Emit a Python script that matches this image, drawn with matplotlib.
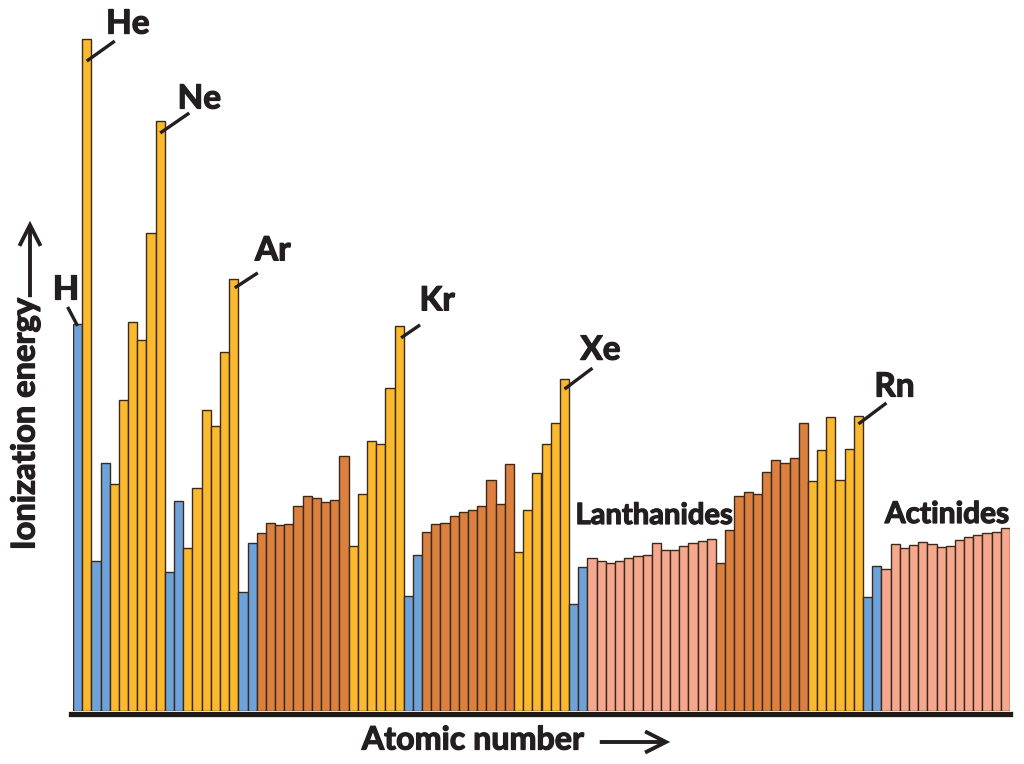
import matplotlib
matplotlib.use("Agg")
import matplotlib.pyplot as plt
import matplotlib.patheffects as pe
from matplotlib.patches import FancyArrowPatch

# ---------------- data ----------------
symbols = ["H", "He",
           "Li", "Be", "B", "C", "N", "O", "F", "Ne",
           "Na", "Mg", "Al", "Si", "P", "S", "Cl", "Ar",
           "K", "Ca", "Sc", "Ti", "V", "Cr", "Mn", "Fe", "Co", "Ni", "Cu", "Zn",
           "Ga", "Ge", "As", "Se", "Br", "Kr",
           "Rb", "Sr", "Y", "Zr", "Nb", "Mo", "Tc", "Ru", "Rh", "Pd", "Ag", "Cd",
           "In", "Sn", "Sb", "Te", "I", "Xe",
           "Cs", "Ba", "La", "Ce", "Pr", "Nd", "Pm", "Sm", "Eu", "Gd", "Tb", "Dy",
           "Ho", "Er", "Tm", "Yb", "Lu", "Hf", "Ta", "W", "Re", "Os", "Ir", "Pt",
           "Au", "Hg", "Tl", "Pb", "Bi", "Po", "At", "Rn",
           "Fr", "Ra", "Ac", "Th", "Pa", "U", "Np", "Pu", "Am", "Cm", "Bk", "Cf",
           "Es", "Fm", "Md", "No"]

# approximate ionization energy (eV)
energy = [14.17, 24.60,
          5.49, 9.08, 8.31, 11.39, 14.24, 13.58, 17.50, 21.60,
          5.09, 7.69, 5.97, 8.16, 11.02, 10.43, 13.14, 15.82,
          4.36, 6.15, 6.52, 6.88, 6.81, 6.85, 7.50, 7.87, 7.80, 7.65, 7.72, 9.34,
          6.04, 7.94, 9.88, 9.77, 11.83, 14.10,
          4.21, 5.71, 6.55, 6.85, 6.88, 7.14, 7.29, 7.36, 7.50, 8.46, 7.58, 9.04,
          5.82, 7.36, 8.71, 9.77, 10.54, 12.15,
          3.92, 5.27, 5.60, 5.49, 5.42, 5.49, 5.60, 5.67, 5.71, 6.15, 5.89, 5.89,
          6.04, 6.15, 6.22, 6.30, 5.42, 6.63, 7.87, 8.02, 7.94, 8.75, 9.19, 9.08,
          9.26, 10.54, 8.42, 9.56, 10.76, 8.46, 9.59, 10.80,
          4.17, 5.31, 5.20, 6.11, 5.97, 6.08, 6.19, 6.11, 6.00, 6.04, 6.26, 6.37,
          6.44, 6.52, 6.55, 6.70]

# colour group of every bar: s = alkali/alkaline earth, p = p-block (+He),
# d = transition metals, f = lanthanides/actinides
blocks = (["s", "p"]
          + ["s"] * 2 + ["p"] * 6
          + ["s"] * 2 + ["p"] * 6
          + ["s"] * 2 + ["d"] * 10 + ["p"] * 6
          + ["s"] * 2 + ["d"] * 10 + ["p"] * 6
          + ["s"] * 2 + ["f"] * 14 + ["d"] * 10 + ["p"] * 6
          + ["s"] * 2 + ["f"] * 14)

labelled = ["H", "He", "Ne", "Ar", "Kr", "Xe", "Rn"]
group_labels = ["Lanthanides", "Actinides"]

# ---------------- style ----------------
block_colors = {"s": "#6DA2DA", "p": "#FBB92E", "d": "#DB803E", "f": "#F6A88E"}
edge = "#3A2A1C"
ink = "#231F20"
FONT = "Lato"
WEIGHT = "bold"
heavy = [pe.withStroke(linewidth=0.9, foreground=ink)]

W, H = 1024, 764
fig = plt.figure(figsize=(W / 100, H / 100), dpi=100)
fig.patch.set_facecolor("white")

# axes geometry in pixels
x0_px, x1_px = 73, 1010
base_px = 711          # baseline (from top)
ev_per_px = 0.03661
ax = fig.add_axes([x0_px / W, (H - base_px) / H, (x1_px - x0_px) / W, base_px / H])
n = len(energy)
ax.set_xlim(-0.5, n - 0.5)
ax.set_ylim(0, base_px * ev_per_px)
ax.axis("off")

xs = list(range(n))
ax.bar(xs, energy, width=1.0, color=[block_colors[b] for b in blocks],
       edgecolor=edge, linewidth=1.0, zorder=2)

# thick baseline
ax.axhline(-2.6 * ev_per_px, xmin=-0.002, xmax=1.0, color="#1E1A18",
           linewidth=3.8, clip_on=False, zorder=3)

px_per_x = (x1_px - x0_px) / n


def dx(p):
    return p / px_per_x


def dy(p):
    return p * ev_per_px


# element labels: (line start offset, line end offset, text offset) in px, y up
label_offsets = {
    "H":  ((0, -2), (-10, 17), (-12, 34)),
    "He": ((0, -22), (28, -2), (41, 15)),
    "Ne": ((0, -12), (29, 8), (39, 22)),
    "Ar": ((1, -9), (24, 6), (39, 28)),
    "Kr": ((2, -12), (21, 1), (38, 25)),
    "Xe": ((0, -10), (28, 11), (36, 29)),
    "Rn": ((0, -8), (28, 13), (36, 29)),
}
for sym in labelled:
    i = symbols.index(sym)
    e = energy[i]
    (a1, b1), (a2, b2), (tx, ty) = label_offsets[sym]
    ax.plot([i + dx(a1), i + dx(a2)], [e + dy(b1), e + dy(b2)], color=ink,
            linewidth=2.4, solid_capstyle="butt", zorder=5, clip_on=False)
    ax.text(i + dx(tx), e + dy(ty), sym, fontsize=24, fontweight=WEIGHT,
            family=FONT, color=ink, ha="center", va="center", zorder=6,
            path_effects=heavy)

# series group labels
fig.text(654 / W, 1 - 516 / H, group_labels[0], fontsize=21, fontweight=WEIGHT,
         family=FONT, color=ink, ha="center", va="center", path_effects=heavy)
fig.text(947 / W, 1 - 514 / H, group_labels[1], fontsize=21.5, fontweight=WEIGHT,
         family=FONT, color=ink, ha="center", va="center", path_effects=heavy)

# axis titles with arrows
fig.text(473 / W, 1 - 740 / H, "Atomic number", fontsize=23.2, fontweight=WEIGHT,
         family=FONT, color=ink, ha="center", va="center", path_effects=heavy)
fig.text(25 / W, 1 - 424 / H, "Ionization energy", fontsize=23.5, fontweight=WEIGHT,
         family=FONT, color=ink, ha="center", va="center", rotation=90,
         path_effects=heavy)

arrow_style = "->,head_length=0.75,head_width=0.38"
fig.add_artist(FancyArrowPatch((597 / W, 1 - 742 / H), (673 / W, 1 - 742 / H),
                               transform=fig.transFigure, arrowstyle=arrow_style,
                               mutation_scale=20, color=ink, linewidth=2.8,
                               joinstyle="miter", capstyle="butt"))
fig.add_artist(FancyArrowPatch((30 / W, 1 - 300 / H), (30 / W, 1 - 218 / H),
                               transform=fig.transFigure, arrowstyle=arrow_style,
                               mutation_scale=20, color=ink, linewidth=2.8,
                               joinstyle="miter", capstyle="butt"))

fig.savefig("out.png", dpi=100, facecolor="white")
